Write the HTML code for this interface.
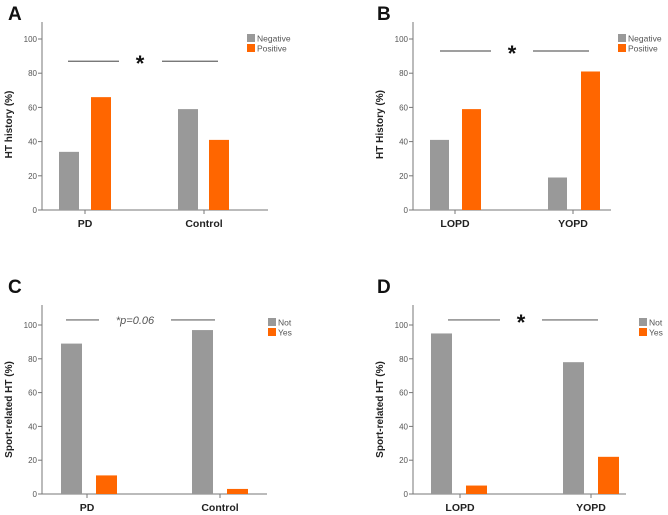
<!DOCTYPE html>
<html><head><meta charset="utf-8"><style>
html,body{margin:0;padding:0;background:#fff;}
svg{display:block;font-family:"Liberation Sans",Arial,sans-serif;}
</style></head><body>
<svg id="fig" width="668" height="515" viewBox="0 0 668 515"></svg>
<script>
// Data
const catsA = ["PD","Control"];
const negA = [34,59];
const posA = [66,41];
const catsB = ["LOPD","YOPD"];
const negB = [41,19];
const posB = [59,81];
const catsC = ["PD","Control"];
const notC = [89,97];
const yesC = [11,3];
const catsD = ["LOPD","YOPD"];
const notD = [95,78];
const yesD = [5,22];
const yTicks = [0,20,40,60,80,100];
const legendAB = ["Negative","Positive"];
const legendCD = ["Not","Yes"];

const NS="http://www.w3.org/2000/svg";
const svg=document.getElementById('fig');
function mk(tag,attrs,parent){const e=document.createElementNS(NS,tag);for(const k in attrs)e.setAttribute(k,attrs[k]);(parent||svg).appendChild(e);return e;}

const panels=[
 {id:'a',letter:'A',lx:8,ly:20,ax:42,y0:210,y100:39,ytop:22,xend:268,title:'HT history (%)',cats:catsA,s1:negA,s2:posA,
  b1:[59,178],b2:[91,209],bw:20,ticks:[85,204],legX:247,legY:34,leg:legendAB,sigY:87,l1:[68,119],l2:[162,218],sig:'*',sigX:140},
 {id:'b',letter:'B',lx:377,ly:20,ax:413,y0:210,y100:39,ytop:22,xend:611,title:'HT History (%)',cats:catsB,s1:negB,s2:posB,
  b1:[430,548],b2:[462,581],bw:19,ticks:[455,573],legX:618,legY:34,leg:legendAB,sigY:93,l1:[440,491],l2:[533,589],sig:'*',sigX:512},
 {id:'c',letter:'C',lx:8,ly:293,ax:42,y0:494,y100:325,ytop:305,xend:267,title:'Sport-related HT (%)',cats:catsC,s1:notC,s2:yesC,
  b1:[61,192],b2:[96,227],bw:21,ticks:[87,220],legX:268,legY:318,leg:legendCD,sigY:103,l1:[66,99],l2:[171,215],sig:'p',sigX:135},
 {id:'d',letter:'D',lx:377,ly:293,ax:413,y0:494,y100:325,ytop:305,xend:626,title:'Sport-related HT (%)',cats:catsD,s1:notD,s2:yesD,
  b1:[431,563],b2:[466,598],bw:21,ticks:[460,591],legX:639,legY:318,leg:legendCD,sigY:103,l1:[448,500],l2:[542,598],sig:'*',sigX:521}
];
const GRAY='#999999', ORANGE='#ff6600', AX='#777';
panels.forEach(p=>{
 const g=mk('g',{});
 
 
 const yS=v=>p.y0-(p.y0-p.y100)*v/100;
 const t=mk('text',{x:p.lx,y:p.ly,'font-size':19,'font-weight':'bold',fill:'#111'},g);t.textContent=p.letter;
 
 const ya=mk('line',{x1:p.ax,y1:p.ytop,x2:p.ax,y2:p.y0,stroke:AX,'stroke-width':1},g);
 
 const xa=mk('line',{x1:p.ax,y1:p.y0,x2:p.xend,y2:p.y0,stroke:AX,'stroke-width':1},g);
 
 yTicks.forEach(v=>{
  const y=yS(v);
  const tk=mk('line',{x1:p.ax-4,y1:y,x2:p.ax,y2:y,stroke:AX},g);
  
  const tl=mk('text',{x:p.ax-5,y:y+3,'font-size':8,fill:'#555','text-anchor':'end'},g);tl.textContent=v;
  
 });
 const yt=mk('text',{x:0,y:0,'font-size':10,'font-weight':'bold',fill:'#222','text-anchor':'middle',transform:`translate(${p.ax-30},${(p.y0+p.y100)/2}) rotate(-90)`},g);
 yt.textContent=p.title;
 p.cats.forEach((c,i)=>{
  const tk=mk('line',{x1:p.ticks[i],y1:p.y0,x2:p.ticks[i],y2:p.y0+4,stroke:AX},g);
  
  const cl=mk('text',{x:p.ticks[i],y:p.y0+17,'font-size':10.5,'font-weight':'bold',fill:'#222','text-anchor':'middle'},g);cl.textContent=c;
  
  const r1=mk('rect',{x:p.b1[i],y:yS(p.s1[i]),width:p.bw,height:p.y0-yS(p.s1[i]),fill:GRAY},g);
  
  const r2=mk('rect',{x:p.b2[i],y:yS(p.s2[i]),width:p.bw,height:p.y0-yS(p.s2[i]),fill:ORANGE},g);
  
 });
 [GRAY,ORANGE].forEach((col,i)=>{
  const sq=mk('rect',{x:p.legX,y:p.legY+i*10,width:8,height:8,fill:col},g);
  
  const lt=mk('text',{x:p.legX+10,y:p.legY+i*10+7.5,'font-size':8.5,fill:'#555'},g);lt.textContent=p.leg[i];
  
 });
 const sy=yS(p.sigY);
 [p.l1,p.l2].forEach(l=>{
  const sl=mk('line',{x1:l[0],y1:sy,x2:l[1],y2:sy,stroke:'#666','stroke-width':1.2},g);
  
 });
 let st;
 if(p.sig==='*'){st=mk('text',{x:p.sigX,y:sy+10,'font-size':22,'font-weight':'bold',fill:'#111','text-anchor':'middle'},g);st.textContent='*';}
 else{st=mk('text',{x:p.sigX,y:sy+4,'font-size':11,'font-style':'italic',fill:'#555','text-anchor':'middle'},g);st.textContent='*p=0.06';}
 
});
</script>
</body></html>
